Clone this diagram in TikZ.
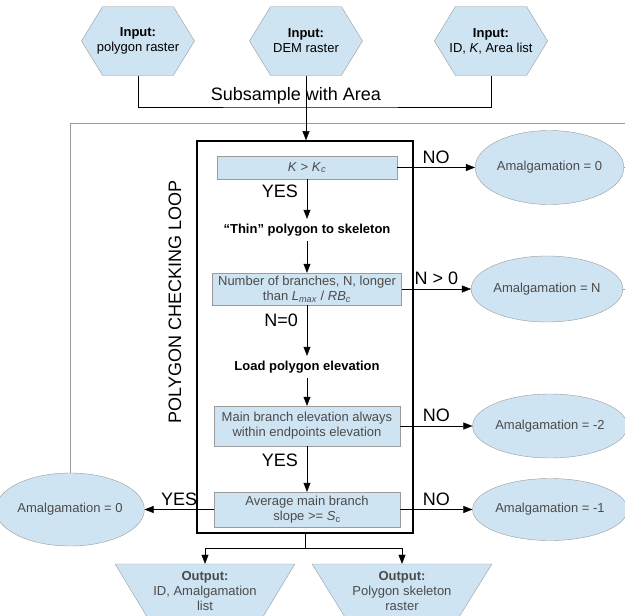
\documentclass[tikz,border=0pt]{standalone}
\usepackage{fontspec}
\setmainfont{Liberation Sans}
\usepackage{tikz}
\usetikzlibrary{positioning,shapes.geometric,shapes.symbols,arrows.meta}
\definecolor{boxblue}{RGB}{207,228,242}
\definecolor{edgegray}{RGB}{155,155,155}
\definecolor{txtgray}{RGB}{75,75,75}

\begin{document}
\begin{tikzpicture}[x=1pt, y=-1pt,
    every node/.style = {align=center, font=\fontsize{13}{15}\selectfont},
    arr/.style = {-{Triangle[length=9pt,width=7pt]}},
    lbl/.style = {font=\fontsize{18}{20}\selectfont, inner sep=1pt},
    hexin/.style = {shape=signal, signal to=east and west, signal pointer angle=117,
      draw=edgegray, fill=boxblue, minimum width=113pt, minimum height=69pt,
      inner ysep=0pt, inner xsep=-6pt},
    stepbox/.style = {draw=edgegray, fill=boxblue, text=txtgray, inner sep=0pt},
    steptext/.style = {font=\fontsize{13}{15}\selectfont\bfseries, minimum height=22pt},
    amal/.style = {ellipse, draw=edgegray, fill=boxblue, text=txtgray, inner sep=0pt,
      minimum width=127pt},
    outtrap/.style = {trapezium, shape border rotate=180, trapezium angle=54,
      trapezium stretches=true, draw=edgegray, fill=boxblue, text=txtgray,
      minimum width=180pt, minimum height=54pt, inner sep=1pt},
    fbline/.style = {draw=edgegray}]
  \useasboundingbox (0,0) rectangle (625,616);

  \node[hexin] (polyin) at (138,41) {\textbf{Input:}\\polygon raster};
  \node[hexin] (demin) at (306,41) {\textbf{Input:}\\DEM raster};
  \node[hexin] (listin) at (491,41) {\textbf{Input:}\\ID, \textit{K}, Area list};
  \coordinate (merge) at (306,107);
  \node[lbl] (subsample) at (296,96) {Subsample with Area};

  \node[draw, line width=1.6pt, minimum width=216pt, minimum height=392pt, inner sep=0pt] (loop) at (305,337) {};
  \node[lbl, rotate=90] (looplbl) at (175,302) {POLYGON CHECKING LOOP};

  \node[stepbox, minimum width=180pt, minimum height=23pt] (kcheck) at (307,167.5)
    {\textit{K} > \textit{K}\textsubscript{\textit{c}}};
  \node[steptext] (thin) at (307,230) {“Thin” polygon to skeleton};
  \node[stepbox, minimum width=189pt, minimum height=32pt] (branch) at (307,289)
    {Number of branches, N, longer\\than \textit{L}\textsubscript{\textit{max}} / \textit{RB}\textsubscript{\textit{c}}};
  \node[steptext] (loadelev) at (307,367) {Load polygon elevation};
  \node[stepbox, minimum width=186pt, minimum height=40pt] (elevcheck) at (307,426)
    {Main branch elevation always\\within endpoints elevation};
  \node[stepbox, minimum width=186pt, minimum height=35pt] (slopecheck) at (307,509.5)
    {Average main branch\\slope >= \textit{S}\textsubscript{c}};

  \node[amal, minimum height=74pt] (amalk) at (549.5,167.5) {Amalgamation = 0};
  \node[amal, minimum height=66pt] (amaln) at (547,289) {Amalgamation = N};
  \node[amal, minimum height=64pt] (amale) at (550,426) {Amalgamation = -2};
  \node[amal, minimum height=62pt] (amals) at (550,509.5) {Amalgamation = -1};
  \node[amal, minimum height=73pt] (amalloop) at (70,509.5) {Amalgamation = 0};

  \coordinate (split) at (305,548);
  \node[outtrap] (outlist) at (205,591) {\textbf{Output:}\\ID, Amalgamation\\list};
  \node[outtrap] (outskel) at (402,591) {\textbf{Output:}\\Polygon skeleton\\raster};

  \coordinate (fbend) at (625,123);
  \draw[fbline] (amalloop.north) |- (fbend);
  \foreach \a in {amalk,amaln,amale,amals}
    \draw[fbline] (\a.east) -- (\a.east -| fbend);

  \draw (polyin.south) |- (merge) -| (listin.south);
  \draw[arr] (demin.south) -- (demin.south |- loop.north);

  \draw[arr] (kcheck) -- node[lbl, pos=0.3, left=8pt] (yes1) {YES} (thin);
  \draw[arr] (thin) -- (branch);
  \draw[arr] (branch) -- node[lbl, pos=0.3, left=8pt] (nzero) {N=0} (loadelev);
  \draw[arr] (loadelev) -- (elevcheck);
  \draw[arr] (elevcheck) -- node[lbl, pos=0.3, left=8pt] (yes2) {YES} (slopecheck);

  \draw[arr] (kcheck) -- node[lbl, above=3pt] (nok) {NO} (amalk);
  \draw[arr] (branch) -- node[lbl, above=3pt] (nmore) {N > 0} (amaln);
  \draw[arr] (elevcheck) -- node[lbl, above=3pt] (noelev) {NO} (amale);
  \draw[arr] (slopecheck) -- node[lbl, above=3pt] (noslope) {NO} (amals);
  \draw[arr] (slopecheck) -- node[lbl, above=3pt] (yesslope) {YES} (amalloop);

  \draw (loop.south) -- (split);
  \draw[arr] (split) -| (outlist.north);
  \draw[arr] (split) -| (outskel.north);
\end{tikzpicture}
\end{document}
